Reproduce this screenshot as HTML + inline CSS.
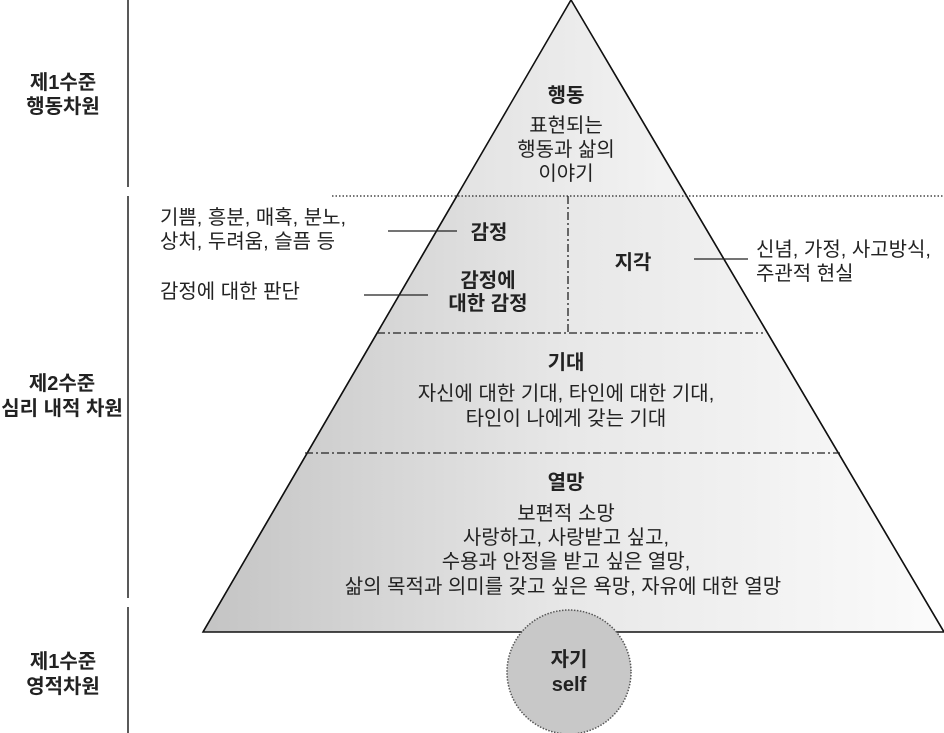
<!DOCTYPE html>
<html><head><meta charset="utf-8"><style>
html,body{margin:0;padding:0;background:#fff;}
svg{display:block;}
text{font-family:"Liberation Sans","Noto Sans CJK KR",sans-serif;font-size:20px;fill:#222;}
.b{font-weight:bold;font-size:20px;}
</style></head><body>
<svg width="944" height="733" viewBox="0 0 944 733" xmlns="http://www.w3.org/2000/svg">
<defs>
<linearGradient id="g" x1="203" y1="0" x2="944" y2="0" gradientUnits="userSpaceOnUse">
<stop offset="0" stop-color="#c4c4c4"/><stop offset="0.5" stop-color="#e8e8e8"/><stop offset="1" stop-color="#fbfbfb"/>
</linearGradient>
<linearGradient id="g2" x1="450" y1="0" x2="690" y2="0" gradientUnits="userSpaceOnUse">
<stop offset="0" stop-color="#e2e2e2"/><stop offset="1" stop-color="#f4f4f4"/>
</linearGradient>
</defs>
<polygon points="571,0 203,632 944,632" fill="url(#g)" stroke="#111" stroke-width="1.5"/>
<polygon points="571,0 457,196 684,196" fill="url(#g2)"/>
<line x1="571" y1="0" x2="203" y2="632" stroke="#111" stroke-width="1.5"/>
<line x1="571" y1="0" x2="944" y2="632" stroke="#111" stroke-width="1.5"/>
<line x1="332" y1="196" x2="944" y2="196" stroke="#222" stroke-width="1.3" stroke-dasharray="1.5,2"/>
<line x1="377" y1="333" x2="763" y2="333" stroke="#222" stroke-width="1.3" stroke-dasharray="8,3,2,3"/>
<line x1="305" y1="453" x2="840" y2="453" stroke="#222" stroke-width="1.3" stroke-dasharray="8,3,2,3"/>
<line x1="568" y1="196" x2="568" y2="333" stroke="#222" stroke-width="1.3" stroke-dasharray="8,3,2,3"/>
<line x1="128" y1="0" x2="128" y2="187" stroke="#222" stroke-width="1.5"/>
<line x1="128" y1="196" x2="128" y2="598" stroke="#222" stroke-width="1.5"/>
<line x1="128" y1="607" x2="128" y2="733" stroke="#222" stroke-width="1.5"/>
<line x1="388" y1="231" x2="457" y2="231" stroke="#222" stroke-width="1.2"/>
<line x1="364" y1="295" x2="428" y2="295" stroke="#222" stroke-width="1.2"/>
<line x1="694" y1="259" x2="748" y2="259" stroke="#222" stroke-width="1.2"/>
<circle cx="569" cy="672" r="62" fill="#c8c8c8" stroke="#555" stroke-width="1.5" stroke-dasharray="1.5,1.5"/>
<g text-anchor="middle">
<text class="b" x="63" y="89">제1수준</text>
<text class="b" x="63" y="113">행동차원</text>
<text class="b" x="62" y="390">제2수준</text>
<text class="b" x="62" y="415">심리 내적 차원</text>
<text class="b" x="63" y="668">제1수준</text>
<text class="b" x="63" y="693">영적차원</text>
<text class="b" x="566" y="102">행동</text>
<text x="566" y="132">표현되는</text>
<text x="566" y="156">행동과 삶의</text>
<text x="566" y="180">이야기</text>
<text class="b" x="489" y="239">감정</text>
<text class="b" x="488" y="287">감정에</text>
<text class="b" x="488" y="310">대한 감정</text>
<text class="b" x="633" y="269">지각</text>
<text class="b" x="566" y="369">기대</text>
<text x="566" y="400">자신에 대한 기대, 타인에 대한 기대,</text>
<text x="566" y="425">타인이 나에게 갖는 기대</text>
<text class="b" x="566" y="489">열망</text>
<text x="566" y="520">보편적 소망</text>
<text x="566" y="544">사랑하고, 사랑받고 싶고,</text>
<text x="566" y="568">수용과 안정을 받고 싶은 열망,</text>
<text x="563" y="593">삶의 목적과 의미를 갖고 싶은 욕망, 자유에 대한 열망</text>
<text class="b" x="569" y="666">자기</text>
<text class="b" x="569" y="691">self</text>
</g>
<text x="160" y="224">기쁨, 흥분, 매혹, 분노,</text>
<text x="160" y="248">상처, 두려움, 슬픔 등</text>
<text x="160" y="298">감정에 대한 판단</text>
<text x="756" y="256">신념, 가정, 사고방식,</text>
<text x="756" y="280">주관적 현실</text>
</svg>
</body></html>
